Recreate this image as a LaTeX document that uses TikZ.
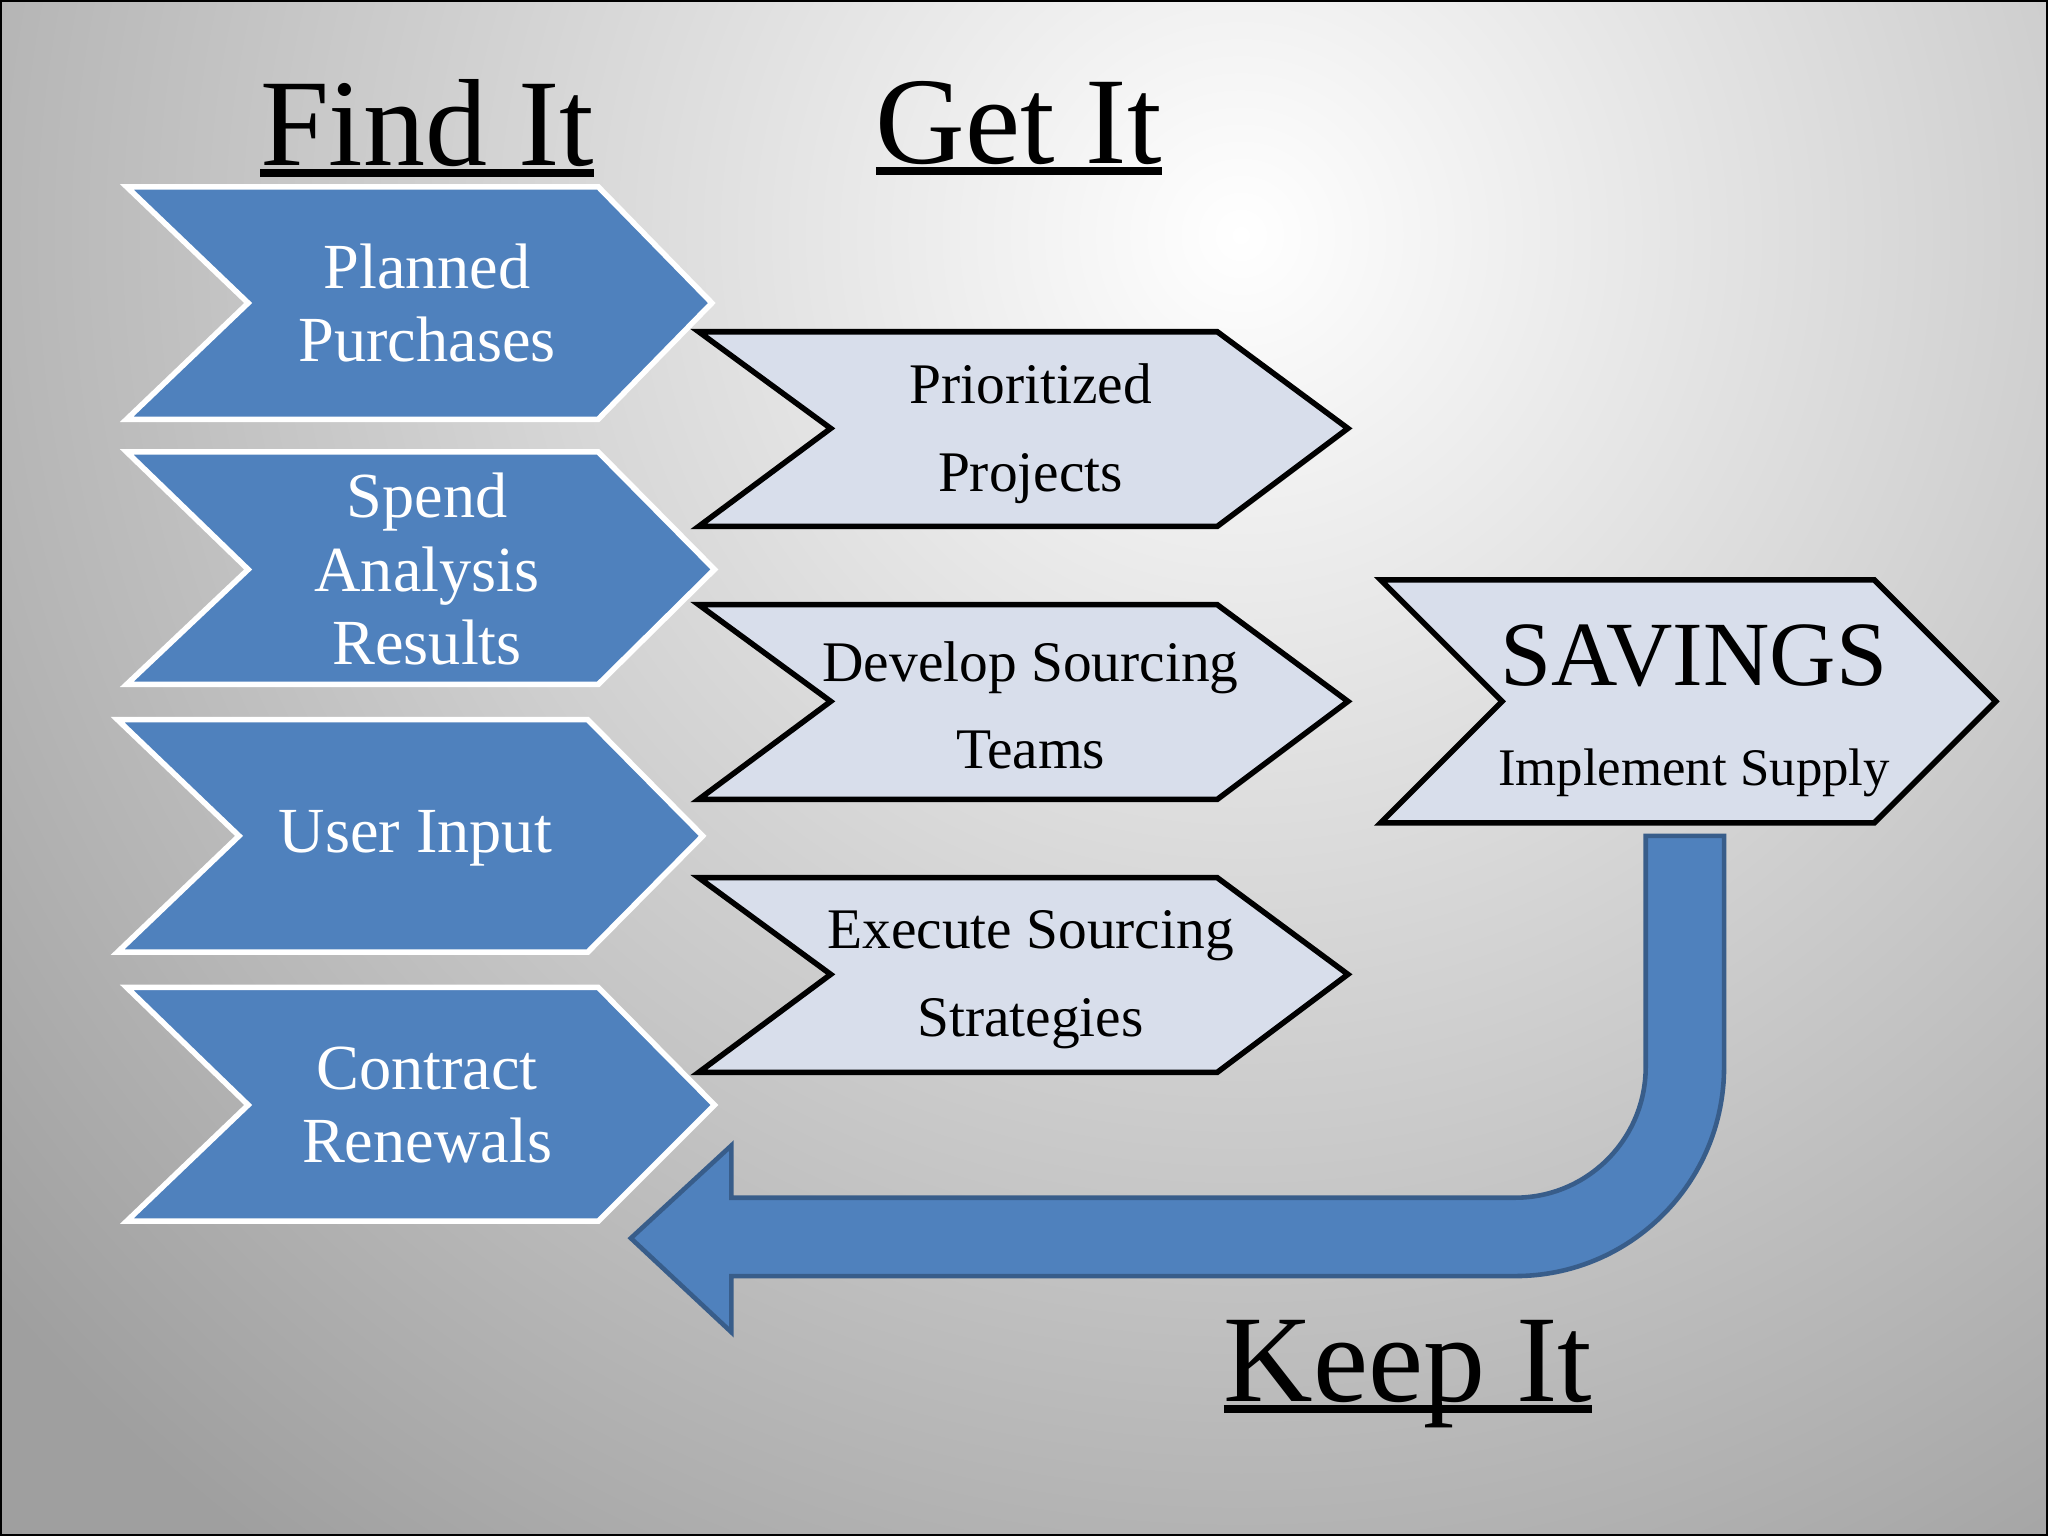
\documentclass[tikz,border=0pt]{standalone}
\usepackage{fontspec}
\setmainfont{Liberation Serif}
\definecolor{bblue}{HTML}{4F81BD}
\definecolor{lblue}{HTML}{D8DEEB}
\definecolor{dblue}{HTML}{385D8A}
\newcommand{\ulthick}[1]{\setbox0\hbox{#1}\rlap{\rule[-0.09em]{\wd0}{0.06em}}\box0}
\begin{document}
\begin{tikzpicture}[x=0.01cm,y=-0.01cm,
  bluechev/.style={fill=bblue,draw=white,line width=1.2pt,line join=miter},
  lightchev/.style={fill=lblue,draw=black,line width=1.2pt,line join=miter},
  wtxt/.style={text=white,align=center,font=\fontsize{14}{16}\selectfont},
  ktxt/.style={text=black,align=center,font=\fontsize{12.5}{19}\selectfont},
  ttl/.style={font=\fontsize{27}{28}\selectfont}]
\useasboundingbox (0,0) rectangle (1568,1176);
\begin{scope}
\clip (0,0) rectangle (1568,1176);
\fill[gray!75] (0,0) rectangle (1568,1176);
\shade[inner color=white,outer color=gray!75] (950,180) circle (1250);
\end{scope}
\draw[black,line width=0.8pt] (0,0) rectangle (1568,1176);
% Find It
\path[bluechev] (97,143)--(458,143)--(545,232)--(458,321)--(97,321)--(190,232)--cycle;
\path[bluechev] (97,346)--(458,346)--(547,436)--(458,524)--(97,524)--(190,436)--cycle;
\path[bluechev] (90,551)--(450,551)--(538,640)--(450,729)--(90,729)--(183,640)--cycle;
\path[bluechev] (97,756)--(458,756)--(547,846)--(458,935)--(97,935)--(190,846)--cycle;
\node[wtxt] (pp) at (327,232) {Planned\\Purchases};
\node[wtxt] (sa) at (327,436) {Spend\\Analysis\\Results};
\node[wtxt] (ui) at (318,642) {User Input};
\node[wtxt] (cr) at (327,846) {Contract\\Renewals};
% Get It
\path[lightchev] (535,254)--(932,254)--(1032,328)--(932,403)--(535,403)--(636,328)--cycle;
\path[lightchev] (535,463)--(932,463)--(1032,537)--(932,612)--(535,612)--(636,537)--cycle;
\path[lightchev] (535,672)--(932,672)--(1032,746)--(932,821)--(535,821)--(636,746)--cycle;
\node[ktxt] (prp) at (789,332) {Prioritized\\Projects};
\node[ktxt] (dst) at (789,540) {Develop Sourcing\\Teams};
\node[ktxt] (ess) at (789,750) {Execute Sourcing\\Strategies};
% Savings
\path[lightchev] (1057,444)--(1435,444)--(1528,537)--(1435,630)--(1057,630)--(1150,537)--cycle;
\node[font=\fontsize{20}{22}\selectfont] (sav) at (1297,502) {SAVINGS};
\node[font=\fontsize{11.5}{14}\selectfont] (isu) at (1297,592) {Implement Supply};
% bent arrow
\path[fill=bblue,draw=dblue,line width=1pt,line join=miter]
 (1260,640)--(1320,640)--(1320,817) arc[start angle=0,end angle=90,radius=160]
 --(560,977)--(560,1020)--(483,948)--(560,877)--(560,917)--(1160,917)
 arc[start angle=90,end angle=0,radius=100]--cycle;
% titles
\node[ttl] (find) at (327,98) {\ulthick{Find It}};
\node[ttl] (get) at (780,98) {\ulthick{Get It}};
\node[ttl] (keep) at (1078,1052) {\ulthick{Keep It}};
\end{tikzpicture}
\end{document}
